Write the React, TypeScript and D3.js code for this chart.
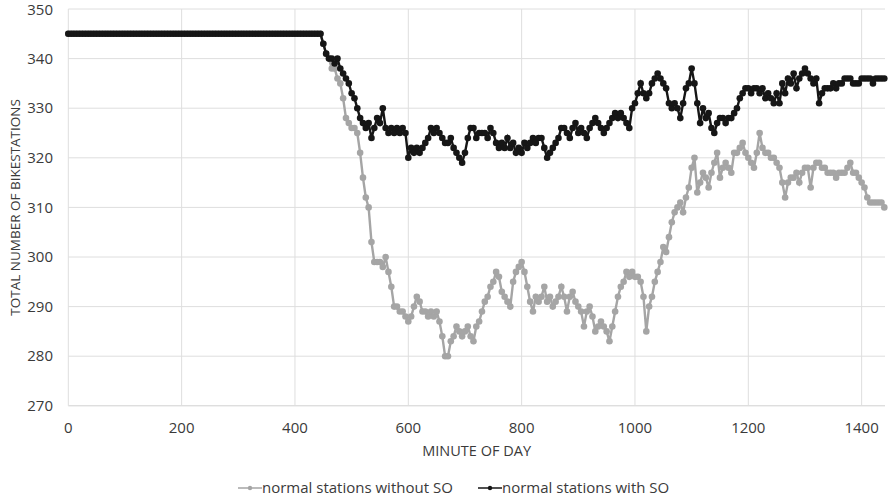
import React from 'react';
import * as d3 from 'd3';

// Sampled every 5 minutes starting at minute 0
const START_MINUTE = 0;
const STEP_MINUTES = 5;

const withoutSO: number[] = [
  345,345,345,345,345,345,345,345,345,345,
  345,345,345,345,345,345,345,345,345,345,
  345,345,345,345,345,345,345,345,345,345,
  345,345,345,345,345,345,345,345,345,345,
  345,345,345,345,345,345,345,345,345,345,
  345,345,345,345,345,345,345,345,345,345,
  345,345,345,345,345,345,345,345,345,345,
  345,345,345,345,345,345,345,345,345,345,
  345,345,345,345,345,345,345,345,345,345,
  343,341,340,338,338,336,335,332,328,327,
  326,326,325,321,316,312,310,303,299,299,
  299,298,300,297,294,290,290,289,289,288,
  287,288,290,292,291,289,289,288,289,288,
  289,287,284,280,280,283,284,286,285,284,
  285,286,284,283,286,287,289,291,292,294,
  295,297,296,293,292,291,290,295,297,298,
  299,297,294,291,289,292,291,292,294,291,
  292,290,291,292,294,292,289,292,293,291,
  290,289,286,289,290,288,285,286,287,286,
  285,283,286,289,292,294,295,297,296,297,
  296,296,295,292,285,290,292,295,297,299,
  302,301,304,307,309,310,311,309,312,314,
  318,320,313,315,317,316,314,317,319,321,
  316,318,319,318,317,321,321,322,323,321,
  320,319,318,321,325,322,321,321,320,320,
  319,318,315,312,315,316,316,317,315,317,
  318,318,314,318,319,319,318,318,317,317,
  317,316,317,317,317,318,319,317,317,316,
  315,314,312,311,311,311,311,311,310,
];

const withSO: number[] = [
  345,345,345,345,345,345,345,345,345,345,
  345,345,345,345,345,345,345,345,345,345,
  345,345,345,345,345,345,345,345,345,345,
  345,345,345,345,345,345,345,345,345,345,
  345,345,345,345,345,345,345,345,345,345,
  345,345,345,345,345,345,345,345,345,345,
  345,345,345,345,345,345,345,345,345,345,
  345,345,345,345,345,345,345,345,345,345,
  345,345,345,345,345,345,345,345,345,345,
  343,341,340,340,339,340,338,337,336,335,
  333,332,330,328,327,326,327,324,326,328,
  327,330,326,325,326,325,326,325,326,325,
  320,322,321,322,321,322,323,324,326,325,
  326,325,324,323,323,324,322,321,320,319,
  321,324,326,326,324,325,325,325,324,326,
  325,323,322,323,322,324,322,323,321,322,
  321,323,322,323,324,323,324,324,322,320,
  321,322,323,324,326,326,325,324,326,327,
  325,326,325,324,326,327,328,327,326,325,
  326,327,328,329,328,329,328,327,326,330,
  331,333,335,333,332,333,335,336,337,336,
  335,334,331,330,331,330,328,331,334,335,
  338,335,331,327,330,328,329,326,325,327,
  328,328,327,328,328,329,330,332,333,334,
  334,333,334,334,333,334,332,333,332,331,
  333,331,335,333,336,335,337,334,336,337,
  338,337,336,335,336,331,333,334,334,334,
  335,334,335,335,336,336,336,335,335,335,
  336,336,336,336,335,336,336,336,336,
];

const seriesNames = ['normal stations without SO', 'normal stations with SO'];
const seriesColors = ['#a5a5a5', '#161616'];
const xTicks = [0, 200, 400, 600, 800, 1000, 1200, 1400];
const yTicks = [270, 280, 290, 300, 310, 320, 330, 340, 350];
const xDomain = [0, 1440];
const yDomain = [270, 350];
const xTitle = 'MINUTE OF DAY';
const yTitle = 'TOTAL NUMBER OF BIKESTATIONS';

const W = 889;
const H = 501;
const FONT = "'Open Sans', 'Noto Sans', sans-serif";

export default function App() {
  const x = d3.scaleLinear().domain(xDomain).range([68.3, 884.3]);
  const y = d3.scaleLinear().domain(yDomain).range([405.8, 9]);
  const seriesList = [withoutSO, withSO].map((vals) =>
    vals.map((v, i) => ({ m: START_MINUTE + i * STEP_MINUTES, v }))
  );
  const line = d3
    .line<{ m: number; v: number }>()
    .x((d) => x(d.m))
    .y((d) => y(d.v));

  const plotLeft = x(xDomain[0]);
  const plotRight = 885;
  const plotTop = y(yDomain[1]);
  const plotBottom = y(yDomain[0]);

  return (
    <svg
      width={W}
      height={H}
      style={{ position: 'absolute', left: 0, top: 0, background: '#fff' }}
      fontFamily={FONT}
    >
      <rect x={0} y={0} width={W} height={H} fill="#fff" />
      {yTicks.map((t) => (
        <line
          key={'hy' + t}
          x1={plotLeft}
          x2={plotRight}
          y1={y(t)}
          y2={y(t)}
          stroke={t === yDomain[0] ? '#d0d0d0' : '#dedede'}
          strokeWidth={1}
        />
      ))}
      {xTicks.map((t) => (
        <line
          key={'vx' + t}
          x1={x(t)}
          x2={x(t)}
          y1={plotTop}
          y2={plotBottom}
          stroke="#dedede"
          strokeWidth={1}
        />
      ))}
      {yTicks.map((t) => (
        <text
          key={'yl' + t}
          x={53}
          y={Math.max(y(t), 10)}
          dy="0.35em"
          textAnchor="end"
          fontSize={15}
          fill="#3a3a3a"
        >
          {t}
        </text>
      ))}
      {xTicks.map((t) => (
        <text
          key={'xl' + t}
          x={x(t)}
          y={428}
          dy="0.35em"
          textAnchor="middle"
          fontSize={15}
          fill="#3a3a3a"
        >
          {t}
        </text>
      ))}
      <text
        x={(plotLeft + plotRight) / 2}
        y={451}
        dy="0.35em"
        textAnchor="middle"
        fontSize={14.5}
        fill="#3a3a3a"
      >
        {xTitle}
      </text>
      <text
        transform={`translate(15, ${(plotTop + plotBottom) / 2}) rotate(-90)`}
        dy="0.35em"
        textAnchor="middle"
        fontSize={13.5}
        fill="#3a3a3a"
      >
        {yTitle}
      </text>
      {seriesList.map((s, si) => (
        <g key={'s' + si}>
          <path d={line(s) || ''} fill="none" stroke={seriesColors[si]} strokeWidth={2.4} />
          {s.map((d, i) => (
            <circle key={i} cx={x(d.m)} cy={y(d.v)} r={3.3} fill={seriesColors[si]} />
          ))}
        </g>
      ))}
      {seriesNames.map((name, i) => {
        const lx = i === 0 ? 238 : 478;
        const ly = 488;
        return (
          <g key={'lg' + i}>
            <line x1={lx} x2={lx + 24} y1={ly} y2={ly} stroke={seriesColors[i]} strokeWidth={1.5} />
            <circle cx={lx + 12} cy={ly} r={2.2} fill={seriesColors[i]} />
            <text x={lx + 24} y={ly} dy="0.35em" fontSize={15} fill="#3a3a3a">
              {name}
            </text>
          </g>
        );
      })}
    </svg>
  );
}
